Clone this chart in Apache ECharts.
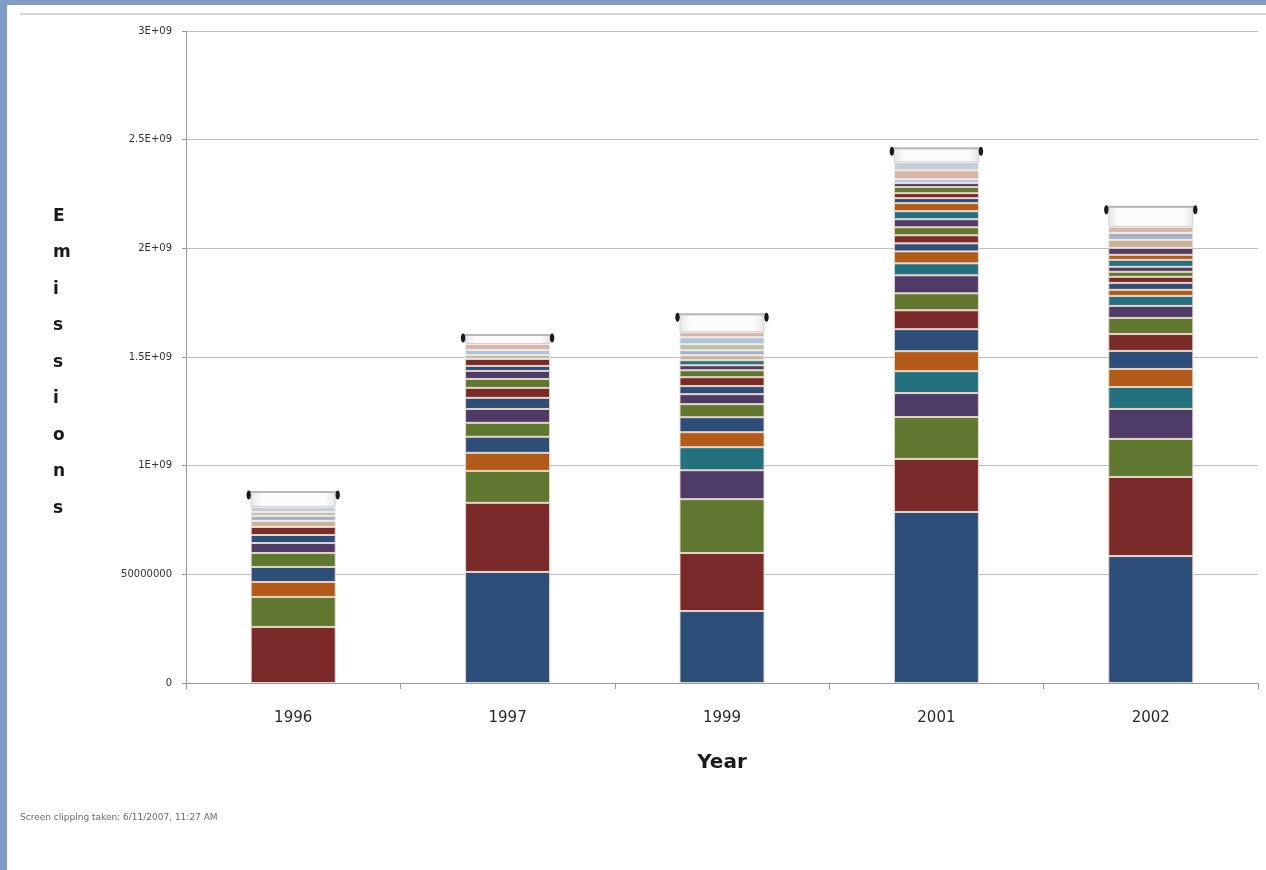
<!DOCTYPE html>
<html>
<head>
<meta charset="utf-8">
<script src="https://cdn.jsdelivr.net/npm/echarts@6/dist/echarts.min.js"></script>
<style>
  html, body { margin: 0; padding: 0; background: #ffffff; }
  #chart { width: 1266px; height: 870px; }
</style>
</head>
<body>
<div id="chart"></div>
<script>
// Years on the category axis
const years = ['1996', '1997', '1999', '2001', '2002'];

// Y tick labels as Excel printed them
const yTickLabels = ['0', '50000000', '1E+09', '1.5E+09', '2E+09', '2.5E+09', '3E+09'];

// Emissions per source, in millions (one value per year)
const s01 = [0, 511, 331, 787, 584];
const s02 = [258, 318, 267, 244, 364];
const s03 = [138, 147, 248, 193, 175];
const s04 = [0, 0, 133, 110, 138];
const s05 = [0, 0, 106, 101, 101];
const s06 = [69, 83, 69, 92, 83];
const s07 = [69, 74, 69, 101, 83];
const s08 = [0, 0, 0, 87, 78];
const s09 = [64, 64, 60, 78, 74];
const s10 = [46, 64, 46, 83, 55];
const s11 = [0, 0, 0, 55, 46];
const s12 = [0, 0, 0, 55, 28];
const s13 = [37, 51, 37, 37, 32];
const s14 = [37, 46, 41, 37, 28];
const s15 = [0, 41, 32, 37, 23];
const s16 = [0, 37, 23, 37, 23];
const s17 = [0, 0, 23, 37, 32];
const s18 = [0, 0, 0, 37, 23];
const s19 = [0, 23, 0, 23, 0];
const s20 = [0, 32, 0, 23, 0];
const s21 = [0, 0, 0, 28, 0];
const s22 = [0, 0, 0, 18, 32];
const p01 = [28, 0, 23, 0, 37];
const p02 = [23, 0, 23, 0, 32];
const p03 = [18, 18, 28, 0, 0];
const p04 = [0, 23, 32, 18, 0];
const p05 = [0, 28, 23, 41, 28];
const p06 = [23, 0, 0, 37, 0];
const other = [69, 41, 83, 64, 92];

const darkColors = ['#2D4E78', '#7A2B29', '#60772F', '#4E3B68', '#23707F', '#B25A17'];
const paleColors = ['#C7B397', '#A2B0C8', '#B8C2A2', '#ABC6DA', '#D5B6A8', '#C3CEDB'];

const darkSources = [s01, s02, s03, s04, s05, s06, s07, s08, s09, s10, s11,
                     s12, s13, s14, s15, s16, s17, s18, s19, s20, s21, s22];
const paleSources = [p01, p02, p03, p04, p05, p06];

const M = 1e6;
const toData = arr => arr.map(v => (v === 0 ? null : v * M));

const barWidth = 85;
const series = [];

darkSources.forEach((arr, i) => {
  series.push({
    name: 'Source ' + (i + 1),
    type: 'bar',
    stack: 'total',
    barWidth: barWidth,
    data: toData(arr),
    itemStyle: { color: darkColors[i % 6], borderColor: 'rgba(232,214,200,0.95)', borderWidth: 1 }
  });
});
paleSources.forEach((arr, i) => {
  series.push({
    name: 'Source ' + (darkSources.length + i + 1),
    type: 'bar',
    stack: 'total',
    barWidth: barWidth,
    data: toData(arr),
    itemStyle: { color: paleColors[i], borderColor: 'rgba(240,232,228,0.95)', borderWidth: 1 }
  });
});
series.push({
  name: 'Other',
  type: 'bar',
  stack: 'total',
  barWidth: barWidth,
  data: toData(other),
  itemStyle: {
    color: new echarts.graphic.LinearGradient(0, 0, 1, 0, [
      { offset: 0, color: '#E6E6E6' },
      { offset: 0.12, color: '#FBFBFB' },
      { offset: 0.88, color: '#FBFBFB' },
      { offset: 1, color: '#E6E6E6' }
    ]),
    borderColor: '#D2D2D2',
    borderWidth: 1
  }
});

// Column totals, for the bracket drawn on top of each stack
const allSources = darkSources.concat(paleSources, [other]);
const totals = years.map((_, j) => allSources.reduce((acc, arr) => acc + arr[j], 0) * M);

series.push({
  name: 'Total',
  type: 'custom',
  silent: true,
  z: 5,
  data: totals.map((t, j) => [j, t]),
  renderItem: function (params, api) {
    const p = api.coord([api.value(0), api.value(1)]);
    const half = barWidth / 2;
    return {
      type: 'group',
      children: [
        { type: 'line', shape: { x1: p[0] - half - 1, y1: p[1], x2: p[0] + half + 1, y2: p[1] },
          style: { stroke: '#B8B8B8', lineWidth: 2 } },
        { type: 'ellipse', shape: { cx: p[0] - half - 2, cy: p[1] + 3, rx: 2.2, ry: 4.5 },
          style: { fill: '#1A1A1A' } },
        { type: 'ellipse', shape: { cx: p[0] + half + 2, cy: p[1] + 3, rx: 2.2, ry: 4.5 },
          style: { fill: '#1A1A1A' } }
      ]
    };
  }
});

const chart = echarts.init(document.getElementById('chart'), null, { renderer: 'canvas' });

chart.setOption({
  backgroundColor: '#ffffff',
  animation: false,
  grid: { left: 186, right: 8, top: 31, bottom: 187, containLabel: false },
  xAxis: {
    type: 'category',
    data: years,
    axisLine: { lineStyle: { color: '#9A9A9A', width: 1 } },
    axisTick: { show: true, length: 6, lineStyle: { color: '#9A9A9A' } },
    axisLabel: { color: '#2A2A2A', fontSize: 15, fontFamily: 'DejaVu Sans', margin: 28 },
    name: 'Year',
    nameLocation: 'middle',
    nameGap: 70,
    nameTextStyle: { color: '#1A1A1A', fontSize: 20, fontWeight: 'bold', fontFamily: 'DejaVu Sans' }
  },
  yAxis: {
    type: 'value',
    min: 0,
    max: 3e9,
    interval: 5e8,
    axisLine: { show: true, lineStyle: { color: '#9A9A9A', width: 1 } },
    axisTick: { show: true, length: 4, lineStyle: { color: '#9A9A9A' } },
    splitLine: { show: true, lineStyle: { color: '#BDBDBD', width: 1 } },
    axisLabel: {
      color: '#333333',
      fontSize: 10,
      fontFamily: 'DejaVu Sans',
      margin: 14,
      formatter: function (v) { return yTickLabels[Math.round(v / 5e8)]; }
    }
  },
  graphic: [
    // window frame
    { type: 'rect', left: 0, top: 0, shape: { width: 1266, height: 5 }, style: { fill: '#7E9CC7' } },
    { type: 'rect', left: 0, top: 0, shape: { width: 7, height: 870 }, style: { fill: '#7E9CC7' } },
    { type: 'line', shape: { x1: 20, y1: 14, x2: 1266, y2: 14 }, style: { stroke: '#D4D4D4', lineWidth: 2 } },
    // vertical axis title, one letter per line
    { type: 'text', left: 53, top: 198,
      style: { text: 'E\nm\ni\ns\ns\ni\no\nn\ns', fill: '#1A1A1A', font: 'bold 17px "DejaVu Sans"',
               lineHeight: 36.5, align: 'center' } },
    { type: 'text', left: 20, top: 813,
      style: { text: 'Screen clipping taken: 6/11/2007, 11:27 AM', fill: '#6A6A6A',
               font: '9px "DejaVu Sans"' } }
  ],
  series: series
});
</script>
</body>
</html>
